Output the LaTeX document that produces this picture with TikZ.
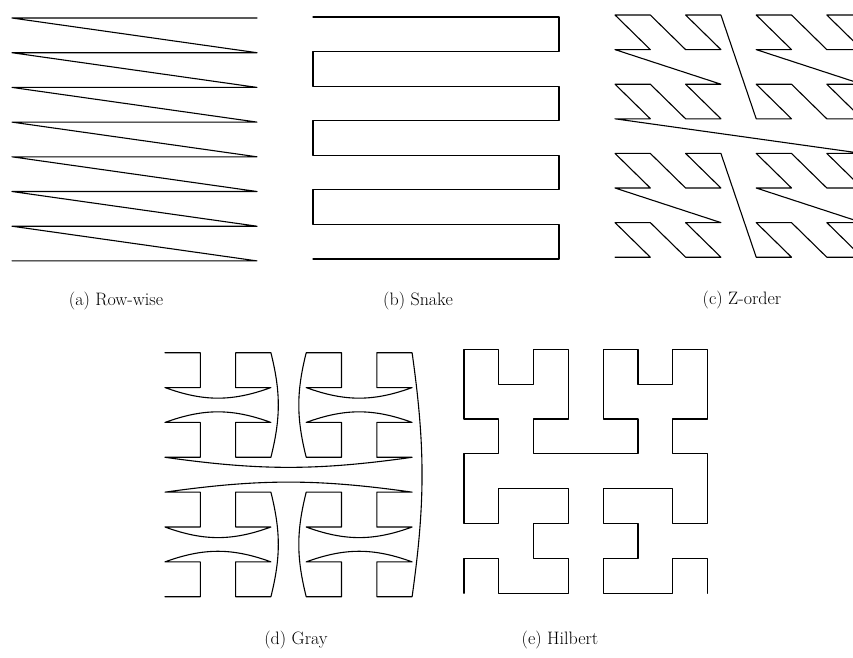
\documentclass[tikz,border=0pt]{standalone}
\usepackage{tikz}
\tikzset{
  curvepath/.style={draw=black, line width=1.1pt, line join=round, line cap=round},
  capnode/.style={font=\fontsize{18}{22}\selectfont, inner sep=0pt, anchor=center}
}

\begin{document}
\begin{tikzpicture}[x=1pt,y=-1pt]
  \useasboundingbox (0,0) rectangle (853,657);
  % (a) row-wise
  \begin{scope}[shift={(12,18)}, x=35pt, y=-34.7pt]
    \draw[curvepath] (7,0) -- (0,0) \foreach \r in {1,...,7} { -- (7,\r) -- (0,\r) };
  \end{scope}
  % (b) snake
  \begin{scope}[shift={(313,17)}, x=35.14pt, y=-34.57pt]
    \draw[curvepath] (0,0) -- (7,0) -- (7,1) -- (0,1) -- (0,2) -- (7,2) -- (7,3) -- (0,3)
      -- (0,4) -- (7,4) -- (7,5) -- (0,5) -- (0,6) -- (7,6) -- (7,7) -- (0,7);
  \end{scope}
  % (c) z-order, runs past the right edge
  \begin{scope}[shift={(615,15)}, x=35.3pt, y=-34.6pt]
    \draw[curvepath] (7,0) \foreach \i [evaluate={\i as \u using mod(\i,2)+2*mod(floor(\i/4),2)+4*mod(floor(\i/16),2)},
      evaluate={\i as \v using mod(floor(\i/2),2)+2*mod(floor(\i/8),2)+4*mod(floor(\i/32),2)}] in {1,...,63} { -- (7-\u,\v) };
  \end{scope}
  % (d) gray
  \begin{scope}[shift={(165,352.7)}, x=35.3pt, y=-34.86pt]
    \draw[curvepath] (0,0) -- (1,0) -- (1,1) -- (0,1) to[bend right=20] (3,1) -- (2,1) -- (2,0) -- (3,0)
      to[bend left=14] (3,3) -- (2,3) -- (2,2) -- (3,2) to[bend right=20] (0,2) -- (1,2) -- (1,3) -- (0,3)
      to[bend right=8] (7,3) -- (6,3) -- (6,2) -- (7,2) to[bend right=20] (4,2) -- (5,2) -- (5,3) -- (4,3)
      to[bend left=14] (4,0) -- (5,0) -- (5,1) -- (4,1) to[bend right=20] (7,1) -- (6,1) -- (6,0) -- (7,0)
      to[bend left=8] (7,7) -- (6,7) -- (6,6) -- (7,6) to[bend right=20] (4,6) -- (5,6) -- (5,7) -- (4,7)
      to[bend left=14] (4,4) -- (5,4) -- (5,5) -- (4,5) to[bend right=20] (7,5) -- (6,5) -- (6,4) -- (7,4)
      to[bend right=8] (0,4) -- (1,4) -- (1,5) -- (0,5) to[bend right=20] (3,5) -- (2,5) -- (2,4) -- (3,4)
      to[bend left=14] (3,7) -- (2,7) -- (2,6) -- (3,6) to[bend right=20] (0,6) -- (1,6) -- (1,7) -- (0,7);
  \end{scope}
  % (e) hilbert
  \begin{scope}[shift={(464,349.3)}, x=34.8pt, y=-34.86pt]
    \draw[curvepath] (0,7) -- (0,6) -- (1,6) -- (1,7) -- (3,7) -- (3,6) -- (2,6) -- (2,5) -- (3,5) -- (3,4)
      -- (1,4) -- (1,5) -- (0,5) -- (0,3) -- (1,3) -- (1,2) -- (0,2) -- (0,0) -- (1,0) -- (1,1) -- (2,1)
      -- (2,0) -- (3,0) -- (3,2) -- (2,2) -- (2,3) -- (5,3) -- (5,2) -- (4,2) -- (4,0) -- (5,0) -- (5,1)
      -- (6,1) -- (6,0) -- (7,0) -- (7,2) -- (6,2) -- (6,3) -- (7,3) -- (7,5) -- (6,5) -- (6,4) -- (4,4)
      -- (4,5) -- (5,5) -- (5,6) -- (4,6) -- (4,7) -- (6,7) -- (6,6) -- (7,6) -- (7,7);
  \end{scope}
  \node[capnode] (capa) at (116,301) {(a) Row-wise};
  \node[capnode] (capb) at (418,301) {(b) Snake};
  \node[capnode] (capc) at (742,300) {(c) Z-order};
  \node[capnode] (capd) at (296,640) {(d) Gray};
  \node[capnode] (cape) at (560,640) {(e) Hilbert};
\end{tikzpicture}
\end{document}
